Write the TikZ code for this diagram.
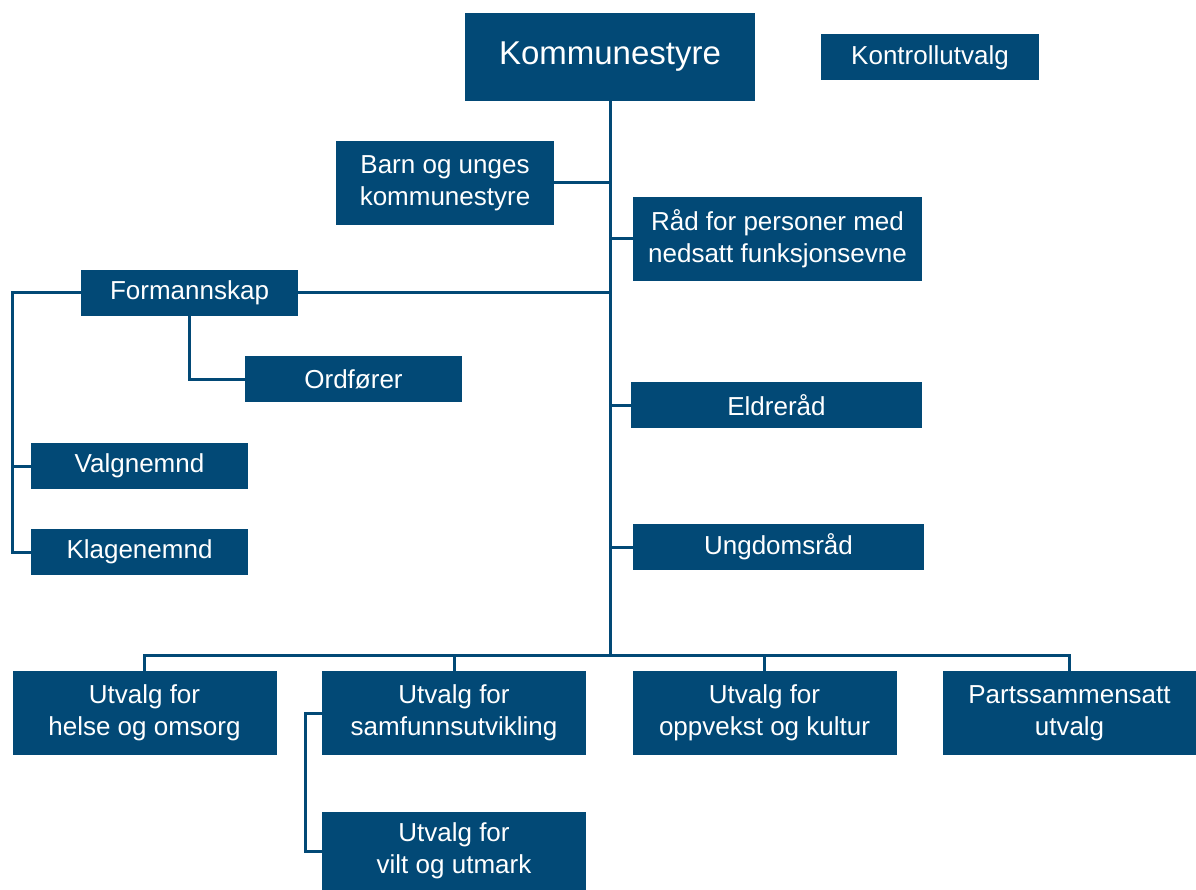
\documentclass[tikz,border=0pt]{standalone}
\usepackage{fontspec}
\setmainfont{Liberation Sans}
\usepackage{tikz}
\usetikzlibrary{positioning}
\definecolor{kblue}{RGB}{2,73,118}
\tikzset{
  orgbox/.style={rectangle, fill=kblue, text=white, inner sep=0pt, align=center,
                 font=\fontsize{26}{32}\selectfont},
  small/.style={minimum width=217pt, minimum height=46pt},
  wide/.style={minimum width=291pt, minimum height=46pt},
  tall/.style={minimum width=264pt, minimum height=84pt},
  link/.style={draw=kblue, line width=3pt}, % all connectors
}

\begin{document}
\begin{tikzpicture}[x=1pt, y=-1pt]
  \useasboundingbox (0,0) rectangle (1196,890);

  \node[orgbox, minimum width=290pt, minimum height=88pt, font=\fontsize{33}{40}\selectfont] (komm) at (610,57) {Kommunestyre};
  \node[orgbox, small, minimum width=218pt] (kontroll) at (930,57.5) {Kontrollutvalg};
  \node[orgbox, minimum width=218pt, minimum height=84pt] (barn) at (445,183) {Barn og unges\\kommunestyre};
  \node[orgbox, minimum width=289pt, minimum height=84pt] (raad) at (777.5,239) {Råd for personer med\\nedsatt funksjonsevne};
  \node[orgbox, small] (form) at (189.5,293) {Formannskap};
  \node[orgbox, small] (ord) at (353.5,379) {Ordfører};
  \node[orgbox, wide] (eldre) at (776.5,405) {Eldreråd};
  \node[orgbox, small] (valg) at (139.5,466) {Valgnemnd};
  \node[orgbox, small] (klage) at (139.5,552) {Klagenemnd};
  \node[orgbox, wide] (ungdom) at (778.5,547) {Ungdomsråd};

  \node[orgbox, tall] (helse) at (144.5,713) {Utvalg for\\helse og omsorg};
  \node[orgbox, tall] (samf) at (454,713) {Utvalg for\\samfunnsutvikling};
  \node[orgbox, tall] (oppv) at (764.5,713) {Utvalg for\\oppvekst og kultur};
  \node[orgbox, tall, minimum width=253pt] (parts) at (1069.5,713) {Partssammensatt\\utvalg};
  \node[orgbox, tall, minimum height=78pt] (vilt) at (454,851) {Utvalg for\\vilt og utmark};

  \coordinate (bus) at (610,655);
  \coordinate (spine) at (12,293);
  \coordinate (vspine) at (305,713);

  \draw[link] (komm.south) -- (bus);
  \draw[link] (barn.east) -- (barn.east -| komm.south);
  \draw[link] (raad.west) -- (raad.west -| komm.south);
  \draw[link] (form.east) -- (form.east -| komm.south);
  \draw[link] (eldre.west) -- (eldre.west -| komm.south);
  \draw[link] (ungdom.west) -- (ungdom.west -| komm.south);

  \draw[link] (helse.north) |- (bus) -| (parts.north);
  \draw[link] (samf.north) -- (samf.north |- bus);
  \draw[link] (oppv.north) -- (oppv.north |- bus);

  \draw[link] (form.south) |- (ord.west);
  \draw[link] (form.west) -- (spine) |- (klage.west);
  \draw[link] (spine |- valg.west) -- (valg.west);
  \draw[link] (samf.west) -- (vspine) |- (vilt.west);
\end{tikzpicture}
\end{document}
